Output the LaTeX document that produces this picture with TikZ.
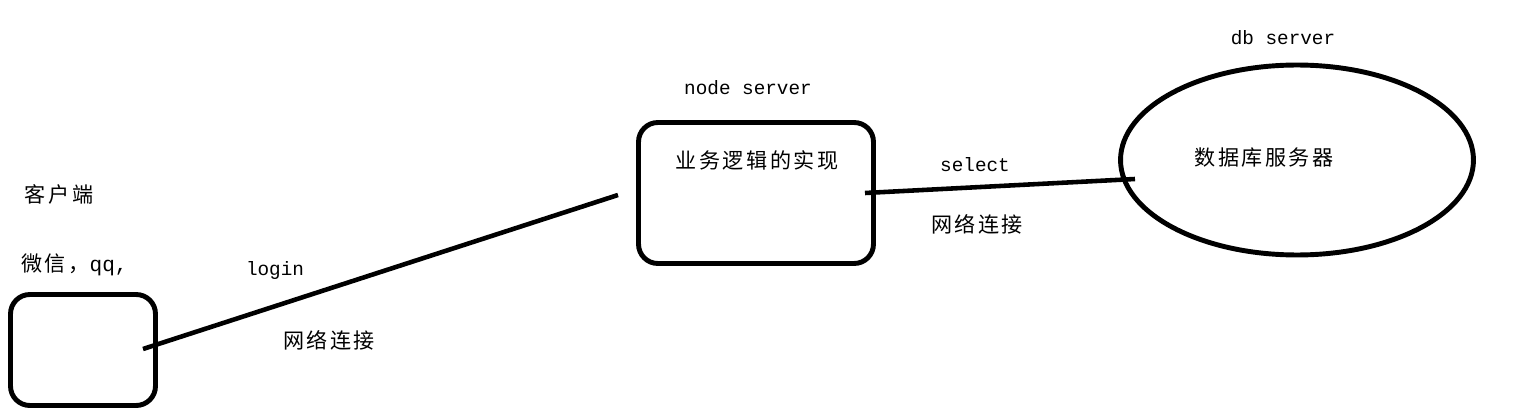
\documentclass[tikz,border=0pt]{standalone}
\usepackage{fontspec}
\setmainfont{Liberation Mono}
\newfontfamily\cjk[LetterSpace=12]{Noto Sans CJK SC}
\usetikzlibrary{positioning}
\usetikzlibrary{shapes.geometric}

\begin{document}
\begin{tikzpicture}[x=0.02cm, y=-0.02cm,
  main/.style = {draw, rounded corners=11pt, line width=2.8pt},
  db/.style = {draw, ellipse, line width=2.8pt},
  txt/.style = {inner sep=0pt, font=\fontsize{11pt}{13pt}\selectfont},
  zh/.style = {inner sep=0pt, font=\fontsize{12pt}{14pt}\selectfont\cjk},
  link/.style = {line width=2.6pt}]
\useasboundingbox (0,0) rectangle (1522,412);
% boxes
\node[main, minimum width=2.9cm, minimum height=2.22cm] (1) at (83,350) {};
\node[main, minimum width=4.7cm, minimum height=2.82cm] (2) at (756,193) {};
\node[db, minimum width=7.06cm, minimum height=3.8cm] (3) at (1297,160) {};
% labels
\node[zh] (kehu) at (59,194) {客户端};
\node[zh, anchor=west] (wx) at (21,265) {微信，\fontspec{Liberation Mono}qq,};
\node[txt] (nodesrv) at (748,88) {node server};
\node[zh] (yewu) at (757,160) {业务逻辑的实现};
\node[txt] (dbsrv) at (1283,38) {db server};
\node[zh] (shuju) at (1264,158) {数据库服务器};
% links
\coordinate (c1) at (143,349);
\coordinate (c2) at (618,195);
\coordinate (c3) at (865,193);
\coordinate (c4) at (1135,179);
\draw[link] (c1) -- (c2);
\draw[link] (c3) -- (c4);
\node[txt] (login) at (275,270) {login};
\node[zh] (net1) at (329,340) {网络连接};
\node[txt] (select) at (975,165) {select};
\node[zh] (net2) at (977,224) {网络连接};
\end{tikzpicture}
\end{document}
